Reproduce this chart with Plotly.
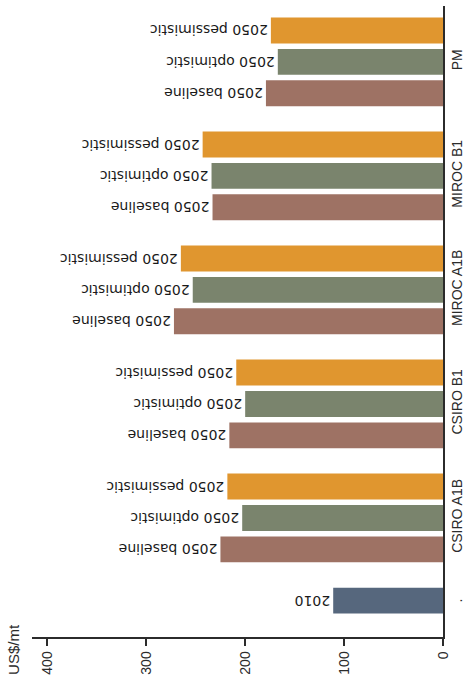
import plotly.graph_objects as go

categories = ["CSIRO A1B", "CSIRO B1", "MIROC A1B", "MIROC B1", "PM"]
all_categories = ["."] + categories
baseline_2050 = [225, 216, 272, 233, 179]
optimistic_2050 = [203, 200, 253, 234, 167]
pessimistic_2050 = [218, 209, 265, 243, 174]
value_2010 = [111]
x_ticks = [0, 100, 200, 300, 400]

colors = {
    "base": "#9E7264",
    "opt": "#7A846D",
    "pess": "#E0962F",
    "y2010": "#56677D",
}
text_font = dict(family="DejaVu Sans", size=14, color="#1a1a1a")

fig = go.Figure()

series = [
    ("2050 baseline", baseline_2050, colors["base"], "g_base"),
    ("2050 optimistic", optimistic_2050, colors["opt"], "g_opt"),
    ("2050 pessimistic", pessimistic_2050, colors["pess"], "g_pess"),
]
for name, vals, col, grp in series:
    fig.add_trace(go.Bar(
        y=categories, x=vals, orientation="h", name=name,
        marker=dict(color=col, line=dict(width=0)),
        offsetgroup=grp,
        text=[name] * len(vals), textposition="outside", textangle=180,
        textfont=text_font, constraintext="none", cliponaxis=False,
    ))

fig.add_trace(go.Bar(
    y=["."], x=value_2010, orientation="h", name="2010",
    marker=dict(color=colors["y2010"], line=dict(width=0)),
    offsetgroup="g_pess",
    text=["2010"], textposition="outside", textangle=180,
    textfont=text_font, constraintext="none", cliponaxis=False,
))

fig.update_layout(
    width=467, height=686,
    margin=dict(l=32, r=24, t=6, b=49),
    paper_bgcolor="white", plot_bgcolor="white",
    barmode="group", bargap=0.174, bargroupgap=0.175,
    showlegend=False,
    font=dict(family="Liberation Sans", size=14, color="#2b2b2b"),
    xaxis=dict(
        range=[415.5, 0], tickvals=x_ticks, ticks="outside", ticklen=7,
        tickcolor="#2b2b2b", tickwidth=1.5, automargin=False,
        showline=True, linecolor="#2b2b2b", linewidth=1.5,
        showgrid=False, zeroline=False, tickangle=-90,
        tickfont=dict(size=14, color="#2b2b2b"),
    ),
    yaxis=dict(
        type="category", categoryorder="array", categoryarray=all_categories,
        tickmode="array", tickvals=all_categories,
        ticktext=[""] + categories, automargin=False,
        range=[-0.044, 5.49], side="right",
        showline=True, linecolor="#2b2b2b", linewidth=1.5,
        showgrid=False, zeroline=False, ticks="", tickangle=-90,
        ticklabelstandoff=0,
        tickfont=dict(size=14, color="#2b2b2b"),
    ),
    annotations=[
        dict(text="US$/mt", xref="paper", yref="paper", x=-0.044, y=-0.019,
             xanchor="center", yanchor="middle",
             textangle=-90, showarrow=False, font=dict(size=15, color="#2b2b2b")),
        dict(text=".", xref="paper", yref="y", x=1, y=".", xanchor="center",
             yanchor="middle", xshift=14, yshift=31.5, textangle=-90,
             showarrow=False, font=dict(size=14, color="#2b2b2b")),
    ],
)

fig.write_html("out.html")
